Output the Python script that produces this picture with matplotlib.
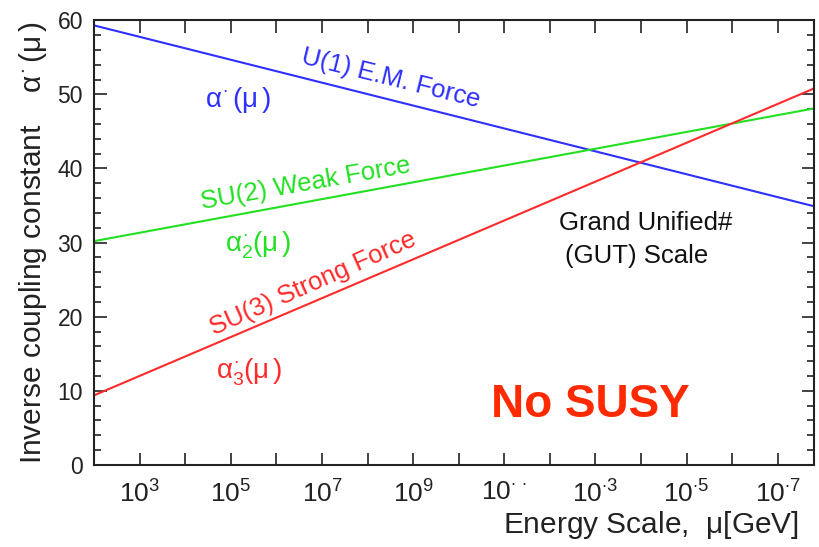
import matplotlib
matplotlib.use("Agg")
import matplotlib.pyplot as plt
from matplotlib.ticker import FixedLocator, NullFormatter, MultipleLocator
import numpy as np

plt.rcParams['font.family'] = ['Liberation Sans', 'DejaVu Sans']
plt.rcParams['mathtext.fontset'] = 'custom'
plt.rcParams['mathtext.rm'] = 'Liberation Sans'
plt.rcParams['mathtext.it'] = 'Liberation Sans'
plt.rcParams['mathtext.bf'] = 'Liberation Sans:bold'

# ---- data ----
energy_log10 = [2.0, 17.8]          # log10(mu / GeV) at the two ends of each line
alpha1_inv = [59.3, 34.9]           # U(1) E.M. force
alpha2_inv = [30.2, 48.1]           # SU(2) weak force
alpha3_inv = [9.4, 50.8]            # SU(3) strong force

labeled_decades = [3, 5, 7, 9, 11, 13, 15, 17]
tick_labels = [r"$10^{3}$", r"$10^{5}$", r"$10^{7}$", r"$10^{9}$",
               r"$10^{\cdot\,\cdot}$", r"$10^{\cdot3}$", r"$10^{\cdot5}$", r"$10^{\cdot7}$"]
unlabeled_decades = [4, 6, 8, 10, 12, 14, 16]
y_ticks = [0, 10, 20, 30, 40, 50, 60]

blue = '#2f2fff'
green = '#22e022'
red = '#ff2a2a'

fig = plt.figure(figsize=(8.19, 5.47), dpi=100)
ax = fig.add_axes([0.115, 0.15, 0.879, 0.813])

mu = 10.0 ** np.array(energy_log10)
ax.plot(mu, alpha1_inv, color=blue, lw=1.5)
ax.plot(mu, alpha2_inv, color=green, lw=1.5)
ax.plot(mu, alpha3_inv, color=red, lw=1.5)

ax.set_xscale('log')
ax.set_xlim(10.0 ** energy_log10[0], 10.0 ** energy_log10[1])
ax.set_ylim(0, 60)

ax.xaxis.set_major_locator(FixedLocator([10.0 ** d for d in labeled_decades]))
ax.xaxis.set_minor_locator(FixedLocator([10.0 ** d for d in unlabeled_decades]))
ax.set_xticklabels(tick_labels)
ax.xaxis.set_minor_formatter(NullFormatter())
ax.set_yticks(y_ticks)
ax.yaxis.set_minor_locator(MultipleLocator(2))

ax.tick_params(axis='x', which='both', direction='in', top=True, bottom=True,
               length=9, width=1.2, labelsize=19, pad=11, colors='#222222')
ax.tick_params(axis='y', which='major', direction='in', left=True, right=True,
               length=9, width=1.2, labelsize=16.5, pad=8, colors='#222222')
ax.tick_params(axis='y', which='minor', direction='in', left=True, right=True,
               length=5, width=1.2, colors='#222222')
for s in ax.spines.values():
    s.set_linewidth(1.5)
    s.set_color('#222222')

ax.set_ylabel(r"Inverse coupling constant    $\alpha^{\cdot}\,(\mu\,)$",
              fontsize=21.5, color='#222222', labelpad=6)
ax.set_xlabel(r"Energy Scale,  $\mu$[GeV]", fontsize=21.5, color='#222222',
              ha='right')
ax.xaxis.set_label_coords(0.979, -0.1)

def tx(xl, y, s, **kw):
    ax.text(10.0 ** xl, y, s, ha='center', va='center', rotation_mode='anchor', **kw)

tx(8.5, 52.2, "U(1) E.M. Force", color=blue, fontsize=18.5, rotation=-14)
tx(5.15, 49.2, r"$\alpha^{\cdot}\,(\mu\,)$", color=blue, fontsize=20)
tx(6.65, 38.0, "SU(2) Weak Force", color=green, fontsize=18.5, rotation=10)
tx(5.6, 29.6, r"$\alpha^{\cdot}_{2}(\mu\,)$", color=green, fontsize=20)
tx(6.8, 24.5, "SU(3) Strong Force", color=red, fontsize=18.5, rotation=24)
tx(5.4, 12.5, r"$\alpha^{\cdot}_{3}(\mu\,)$", color=red, fontsize=20)
tx(14.1, 32.7, "Grand Unified#", color='#111111', fontsize=18.5)
tx(13.9, 28.2, "(GUT) Scale", color='#111111', fontsize=18.5)
tx(12.9, 8.1, "No SUSY", color='#ff2a00', fontsize=33, fontweight='bold')

fig.savefig('out.png', dpi=100)
